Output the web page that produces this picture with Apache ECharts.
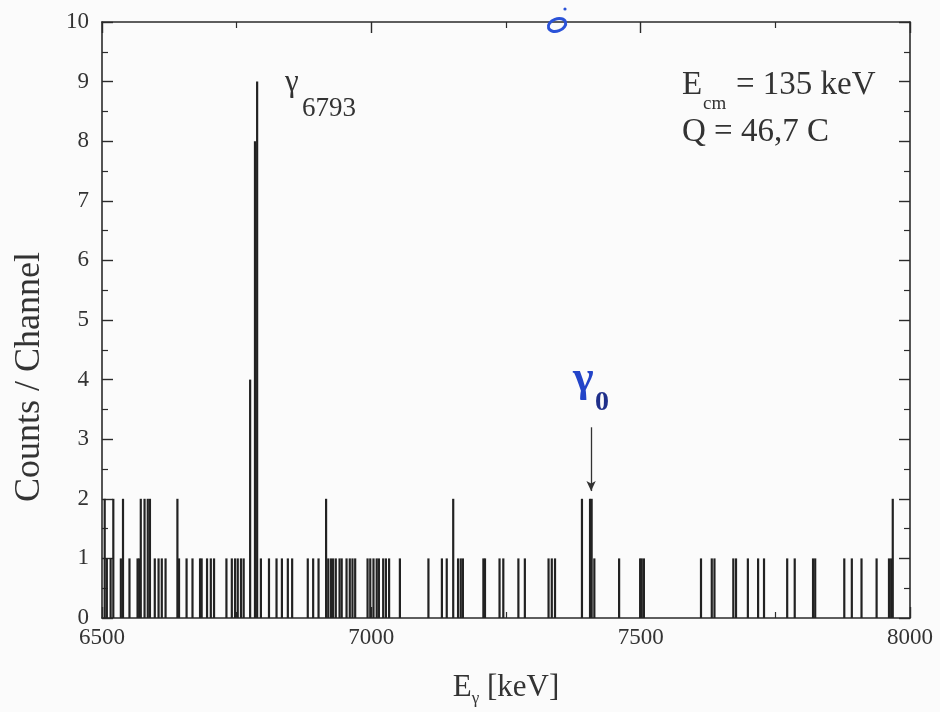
<!DOCTYPE html>
<html>
<head>
<meta charset="utf-8">
<script src="https://cdn.jsdelivr.net/npm/echarts@6/dist/echarts.min.js"></script>
<style>
  html, body { margin: 0; padding: 0; background: #fbfbfb; }
  #chart { width: 940px; height: 712px; }
</style>
</head>
<body>
<div id="chart"></div>
<script>
// channel energies (keV) with non-zero counts
const energies = [
  6505, 6509, 6516, 6521, 6535, 6539, 6551, 6566, 6569, 6572, 6579, 6585, 6589,
  6598, 6605, 6611, 6618, 6640, 6643, 6657, 6668, 6682, 6685, 6695, 6702, 6708,
  6731, 6741, 6747, 6752, 6758, 6763, 6775, 6784, 6788, 6795, 6810, 6824, 6834,
  6845, 6853, 6882, 6892, 6902, 6916, 6920, 6925, 6929, 6934, 6941, 6945, 6954,
  6960, 6965, 6970, 6993, 6998, 7004, 7010, 7014, 7022, 7027, 7033, 7053, 7106,
  7131, 7140, 7152, 7161, 7166, 7170, 7208, 7211, 7238, 7245, 7273, 7285, 7329,
  7335, 7341, 7391, 7406, 7409, 7414, 7460, 7499, 7502, 7506, 7612, 7632, 7637,
  7672, 7677, 7699, 7718, 7729, 7772, 7786, 7820, 7824, 7878, 7892, 7910, 7938,
  7961, 7965, 7968
]
const counts = [
  2, 1, 1, 2, 1, 2, 1, 1, 1, 2, 2, 2, 2,
  1, 1, 1, 1, 2, 1, 1, 1, 1, 1, 1, 1, 1,
  1, 1, 1, 1, 1, 1, 4, 8, 9, 1, 1, 1, 1,
  1, 1, 1, 1, 1, 2, 1, 1, 1, 1, 1, 1, 1,
  1, 1, 1, 1, 1, 1, 1, 1, 1, 1, 1, 1, 1,
  1, 1, 2, 1, 1, 1, 1, 1, 1, 1, 1, 1, 1,
  1, 1, 2, 2, 2, 1, 1, 1, 1, 1, 1, 1, 1,
  1, 1, 1, 1, 1, 1, 1, 1, 1, 1, 1, 1, 1,
  1, 1, 2
]
const xTicks = [6500, 7000, 7500, 8000]
const arrowAt = 7408

const serif = '"Liberation Serif", "Times New Roman", serif'
const ink = '#2b2b2b'

const chart = echarts.init(document.getElementById('chart'))

const frameAxis = {
  axisLine: { show: true, onZero: false, lineStyle: { color: ink, width: 1.6 } },
  axisTick: { show: true, inside: true, length: 11, lineStyle: { color: ink, width: 1.4 } },
  minorTick: { show: true, splitNumber: 2, length: 6, lineStyle: { color: ink, width: 1.2 } },
  splitLine: { show: false },
}

const options = {
  backgroundColor: '#fbfbfb',
  animation: false,
  grid: { left: 102, right: 30, top: 22, bottom: 94 },
  xAxis: [
    {
      type: 'value',
      min: xTicks[0],
      max: xTicks[xTicks.length - 1],
      interval: 500,
      position: 'bottom',
      ...frameAxis,
      axisLabel: {
        fontFamily: serif,
        fontSize: 23,
        color: '#333',
        margin: 8,
        formatter: (v) => String(v),
      },
      name: '{e|E}{g|γ}{k| [keV]}',
      nameLocation: 'middle',
      nameGap: 54,
      nameTextStyle: {
        rich: {
          e: { fontFamily: serif, fontSize: 31, color: '#333', verticalAlign: 'top' },
          g: { fontFamily: serif, fontSize: 17, color: '#333', verticalAlign: 'bottom', padding: [0, 0, -4, 0] },
          k: { fontFamily: serif, fontSize: 31, color: '#333', verticalAlign: 'top' },
        },
      },
    },
    {
      type: 'value',
      min: xTicks[0],
      max: xTicks[xTicks.length - 1],
      interval: 500,
      position: 'top',
      ...frameAxis,
      axisLabel: { show: false },
    },
  ],
  yAxis: [
    {
      type: 'value',
      min: 0,
      max: 10,
      interval: 1,
      position: 'left',
      ...frameAxis,
      axisLabel: { fontFamily: serif, fontSize: 23, color: '#333', margin: 13 },
    },
    {
      type: 'value',
      min: 0,
      max: 10,
      interval: 1,
      position: 'right',
      ...frameAxis,
      axisLabel: { show: false },
    },
  ],
  series: [
    {
      name: 'spectrum',
      type: 'bar',
      xAxisIndex: 0,
      yAxisIndex: 0,
      barWidth: 2.2,
      itemStyle: { color: '#222' },
      data: energies.map((e, i) => [e, counts[i]]),
      markLine: {
        silent: true,
        symbol: ['none', 'arrow'],
        symbolSize: [7, 10],
        label: { show: false },
        lineStyle: { color: '#333', width: 1.3, type: 'solid' },
        data: [[{ coord: [arrowAt, 3.2] }, { coord: [arrowAt, 2.13] }]],
      },
    },
  ],
  graphic: [
    {
      type: 'text', x: 30, y: 377, rotation: Math.PI / 2,
      style: { text: 'Counts / Channel', font: '36px ' + serif, fill: '#333', align: 'center', verticalAlign: 'middle' },
    },
    { type: 'text', x: 285, y: 83, style: { text: 'γ', font: '31px ' + serif, fill: '#333', verticalAlign: 'middle' } },
    { type: 'text', x: 302, y: 109, style: { text: '6793', font: '27px ' + serif, fill: '#333', verticalAlign: 'middle' } },
    { type: 'text', x: 682, y: 85, style: { text: 'E', font: '33px ' + serif, fill: '#333', verticalAlign: 'middle' } },
    { type: 'text', x: 703, y: 104, style: { text: 'cm', font: '19px ' + serif, fill: '#333', verticalAlign: 'middle' } },
    { type: 'text', x: 736, y: 85, style: { text: '= 135 keV', font: '33px ' + serif, fill: '#333', verticalAlign: 'middle' } },
    { type: 'text', x: 682, y: 132, style: { text: 'Q = 46,7 C', font: '33px ' + serif, fill: '#333', verticalAlign: 'middle' } },
    // hand-written marks on the scan
    { type: 'text', x: 573, y: 380, z: 100, style: { text: 'γ', font: 'bold 44px ' + serif, fill: '#2344c8', verticalAlign: 'middle' } },
    { type: 'text', x: 595, y: 403, z: 100, style: { text: '0', font: 'bold 28px ' + serif, fill: '#1f2f8a', verticalAlign: 'middle' } },
    {
      type: 'ellipse', z: 100, x: 557, y: 25, rotation: 0.35,
      shape: { cx: 0, cy: 0, rx: 9, ry: 6 },
      style: { fill: 'none', stroke: '#2a52d8', lineWidth: 3 },
    },
    { type: 'circle', z: 100, shape: { cx: 565, cy: 9, r: 1.6 }, style: { fill: '#2a52d8' } },
  ],
}

chart.setOption(options)
window.addEventListener('resize', () => {
  chart.resize()
})
</script>
</body>
</html>
